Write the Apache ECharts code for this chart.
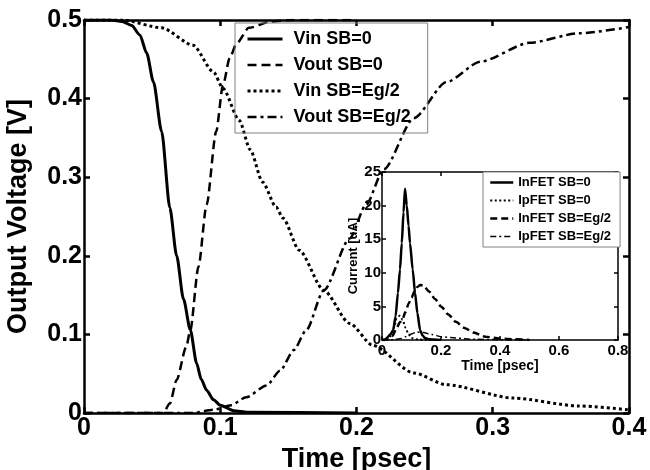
<!DOCTYPE html>
<html>
<head>
<meta charset="utf-8">
<script src="https://cdn.jsdelivr.net/npm/echarts@6/dist/echarts.min.js"></script>
<style>
  html, body { margin: 0; padding: 0; background: #fff; }
  #chart { width: 650px; height: 470px; }
</style>
</head>
<body>
<div id="chart"></div>
<script>
// main plot: voltages vs time
var tVinSB0 = [0, 0.02, 0.028, 0.035, 0.041, 0.046, 0.051, 0.057, 0.063, 0.068, 0.073, 0.078, 0.0827, 0.086, 0.09, 0.095, 0.1, 0.11, 0.12, 0.2];
var vVinSB0 = [0.5, 0.5, 0.498, 0.493, 0.481, 0.458, 0.421, 0.358, 0.261, 0.2, 0.145, 0.106, 0.063, 0.043, 0.029, 0.017, 0.01, 0.003, 0.001, 0];

var tVoutSB0 = [0, 0.058, 0.063, 0.068, 0.075, 0.078, 0.084, 0.09, 0.097, 0.102, 0.107, 0.112, 0.121, 0.137, 0.152, 0.2];
var vVoutSB0 = [0, 0, 0.012, 0.042, 0.084, 0.105, 0.186, 0.265, 0.358, 0.417, 0.452, 0.47, 0.49, 0.498, 0.5, 0.5];

var tVinEg = [0, 0.028, 0.057, 0.08, 0.095, 0.102, 0.114, 0.122, 0.131, 0.141, 0.146, 0.158, 0.176, 0.195, 0.212, 0.242, 0.266, 0.315, 0.363, 0.4];
var vVinEg = [0.5, 0.5, 0.49, 0.468, 0.434, 0.413, 0.372, 0.335, 0.294, 0.262, 0.248, 0.207, 0.156, 0.114, 0.086, 0.051, 0.036, 0.019, 0.009, 0.004];

var tVoutEg = [0, 0.08, 0.095, 0.108, 0.119, 0.134, 0.144, 0.154, 0.163, 0.176, 0.195, 0.207, 0.22, 0.242, 0.266, 0.291, 0.327, 0.363, 0.4];
var vVoutEg = [0, 0, 0.004, 0.01, 0.02, 0.035, 0.054, 0.08, 0.105, 0.156, 0.222, 0.265, 0.31, 0.375, 0.421, 0.447, 0.471, 0.483, 0.491];

// inset: currents vs time
var tInSB0 = [0, 0.01, 0.016, 0.028, 0.038, 0.046, 0.054, 0.061, 0.067, 0.073, 0.078, 0.084, 0.09, 0.095, 0.104, 0.112, 0.12, 0.129, 0.137, 0.146, 0.16, 0.2];
var iInSB0 = [0, 0, 0.3, 0.8, 1.5, 3.5, 7, 10.5, 14.4, 19, 22.5, 20, 17, 14.4, 10.5, 7, 4, 1.5, 0.7, 0.3, 0.1, 0];

var tIpSB0 = [0, 0.02, 0.03, 0.04, 0.05, 0.06, 0.07, 0.08, 0.09, 0.1, 0.12, 0.15, 0.2];
var iIpSB0 = [0, 0.1, 0.6, 1.8, 3.2, 3.6, 3, 1.8, 0.8, 0.3, 0.1, 0, 0];

var tInEg = [0, 0.02, 0.035, 0.05, 0.06, 0.07, 0.08, 0.09, 0.1, 0.11, 0.12, 0.13, 0.14, 0.16, 0.18, 0.2, 0.225, 0.25, 0.28, 0.31, 0.35, 0.4, 0.45, 0.5];
var iInEg = [0, 0.1, 0.6, 1.8, 2.6, 3.2, 4.2, 5.4, 6.3, 7.2, 7.9, 8.2, 8.1, 7.2, 6.1, 5, 3.8, 2.7, 1.8, 1.1, 0.5, 0.2, 0.1, 0];

var tIpEg = [0, 0.04, 0.06, 0.08, 0.1, 0.118, 0.14, 0.17, 0.2, 0.25, 0.31, 0.4, 0.5];
var iIpEg = [0, 0.05, 0.2, 0.5, 0.9, 1.2, 1.1, 0.8, 0.5, 0.3, 0.1, 0.05, 0];

var mainNames = ['Vin SB=0', 'Vout SB=0', 'Vin SB=Eg/2', 'Vout SB=Eg/2'];
var insetNames = ['InFET SB=0', 'IpFET SB=0', 'InFET SB=Eg/2', 'IpFET SB=Eg/2'];

// line looks, shared by series and legend entries
var mainWidths = [3, 2.5, 3, 2.5];
var mainDashes = ['solid', [9, 5], [3, 3], [9, 4, 3, 4]];
var insetWidths = [2.5, 2, 2.5, 1.5];
var insetDashes = ['solid', [2, 2.5], [7, 4], [6, 3, 2, 3]];

function pairs(t, v) {
    var out = [];
    for (var i = 0; i < t.length; i++) out.push([t[i], v[i]]);
    return out;
}

var FONT = 'Liberation Sans, Arial, sans-serif';

function axisBase(gridIndex, lw, tickLen, z) {
    return {
        gridIndex: gridIndex,
        type: 'value',
        z: z,
        axisLine: { show: true, onZero: false, lineStyle: { color: '#000', width: lw } },
        axisTick: { show: true, inside: true, length: tickLen, lineStyle: { color: '#000', width: lw } },
        splitLine: { show: false }
    };
}

function mk(base, extra) {
    return Object.assign(base, extra);
}

function legendData(names, widths, dashes) {
    return names.map(function (n, i) {
        return { name: n, lineStyle: { color: '#000', width: widths[i], type: dashes[i] } };
    });
}

var chart = echarts.init(document.getElementById('chart'));

var option = {
    animation: false,
    backgroundColor: '#fff',
    grid: [
        { left: 84, right: 21, top: 20, bottom: 57, outerBoundsMode: 'none' },
        { left: 382, right: 32, top: 172, bottom: 130, show: true, backgroundColor: '#fff', borderWidth: 0, z: 5, outerBoundsMode: 'none' }
    ],
    legend: [
        {
            data: legendData(mainNames, mainWidths, mainDashes),
            orient: 'vertical',
            left: 235, top: 23,
            padding: [7, 17, 7, 11],
            itemWidth: 35, itemHeight: 14, itemGap: 8,
            itemStyle: { opacity: 0 },
            borderColor: '#808080', borderWidth: 1,
            textStyle: { fontFamily: FONT, fontWeight: 'bold', fontSize: 18, color: '#000', padding: [0, 0, 0, 6] }
        },
        {
            data: legendData(insetNames, insetWidths, insetDashes),
            orient: 'vertical',
            left: 483, top: 172,
            padding: [4, 9, 4, 6],
            itemWidth: 23, itemHeight: 10, itemGap: 5,
            itemStyle: { opacity: 0 },
            borderColor: '#808080', borderWidth: 1,
            backgroundColor: '#fff',
            z: 8,
            textStyle: { fontFamily: FONT, fontWeight: 'bold', fontSize: 13, color: '#000' }
        }
    ],
    xAxis: [
        mk(axisBase(0, 2.5, 6, 1), {
            min: 0, max: 0.4, interval: 0.1, position: 'bottom',
            axisLabel: { fontFamily: FONT, fontWeight: 'bold', fontSize: 25, color: '#000', margin: 3 },
            name: 'Time [psec]', nameLocation: 'middle', nameGap: 32,
            nameTextStyle: { fontFamily: FONT, fontWeight: 'bold', fontSize: 27, color: '#000' }
        }),
        mk(axisBase(0, 2.5, 6, 1), {
            min: 0, max: 0.4, interval: 0.1, position: 'top',
            axisLabel: { show: false }
        }),
        mk(axisBase(1, 1.5, 4, 6), {
            min: 0, max: 0.8, interval: 0.2, position: 'bottom',
            axisLabel: { fontFamily: FONT, fontWeight: 'bold', fontSize: 15, color: '#000', margin: 3 },
            name: 'Time [psec]', nameLocation: 'middle', nameGap: 16,
            nameTextStyle: { fontFamily: FONT, fontWeight: 'bold', fontSize: 14, color: '#000' }
        }),
        mk(axisBase(1, 1.5, 4, 6), {
            min: 0, max: 0.8, interval: 0.2, position: 'top',
            axisLabel: { show: false }
        })
    ],
    yAxis: [
        mk(axisBase(0, 2.5, 6, 1), {
            min: 0, max: 0.5, interval: 0.1, position: 'left',
            axisLabel: { fontFamily: FONT, fontWeight: 'bold', fontSize: 25, color: '#000', margin: 2 },
            name: 'Output Voltage [V]', nameLocation: 'middle', nameGap: 52,
            nameTextStyle: { fontFamily: FONT, fontWeight: 'bold', fontSize: 27, color: '#000' }
        }),
        mk(axisBase(0, 2.5, 6, 1), {
            min: 0, max: 0.5, interval: 0.1, position: 'right',
            axisLabel: { show: false }
        }),
        mk(axisBase(1, 1.5, 4, 6), {
            min: 0, max: 25, interval: 5, position: 'left',
            axisLabel: { fontFamily: FONT, fontWeight: 'bold', fontSize: 15, color: '#000', margin: 1 },
            name: 'Current [uA]', nameLocation: 'middle', nameGap: 17,
            nameTextStyle: { fontFamily: FONT, fontWeight: 'bold', fontSize: 13, color: '#000' }
        }),
        mk(axisBase(1, 1.5, 4, 6), {
            min: 0, max: 25, interval: 5, position: 'right',
            axisLabel: { show: false }
        })
    ],
    series: [
        // main
        { name: mainNames[0], type: 'line', xAxisIndex: 0, yAxisIndex: 0, data: pairs(tVinSB0, vVinSB0) },
        { name: mainNames[1], type: 'line', xAxisIndex: 0, yAxisIndex: 0, data: pairs(tVoutSB0, vVoutSB0) },
        { name: mainNames[2], type: 'line', xAxisIndex: 0, yAxisIndex: 0, data: pairs(tVinEg, vVinEg) },
        { name: mainNames[3], type: 'line', xAxisIndex: 0, yAxisIndex: 0, data: pairs(tVoutEg, vVoutEg) },
        // inset
        { name: insetNames[0], type: 'line', xAxisIndex: 2, yAxisIndex: 2, z: 7, data: pairs(tInSB0, iInSB0) },
        { name: insetNames[1], type: 'line', xAxisIndex: 2, yAxisIndex: 2, z: 7, data: pairs(tIpSB0, iIpSB0) },
        { name: insetNames[2], type: 'line', xAxisIndex: 2, yAxisIndex: 2, z: 7, data: pairs(tInEg, iInEg) },
        { name: insetNames[3], type: 'line', xAxisIndex: 2, yAxisIndex: 2, z: 7, data: pairs(tIpEg, iIpEg) }
    ]
};

option.series.forEach(function (s, i) {
    var w = i < 4 ? mainWidths[i] : insetWidths[i - 4];
    var d = i < 4 ? mainDashes[i] : insetDashes[i - 4];
    s.lineStyle = { color: '#000', width: w, type: d };
    s.symbol = 'none';
    s.showSymbol = false;
    s.smooth = 0.25;
    s.smoothMonotone = 'x';
    s.itemStyle = { color: '#000' };
    s.emphasis = { disabled: true };
});

chart.setOption(option);
</script>
</body>
</html>
